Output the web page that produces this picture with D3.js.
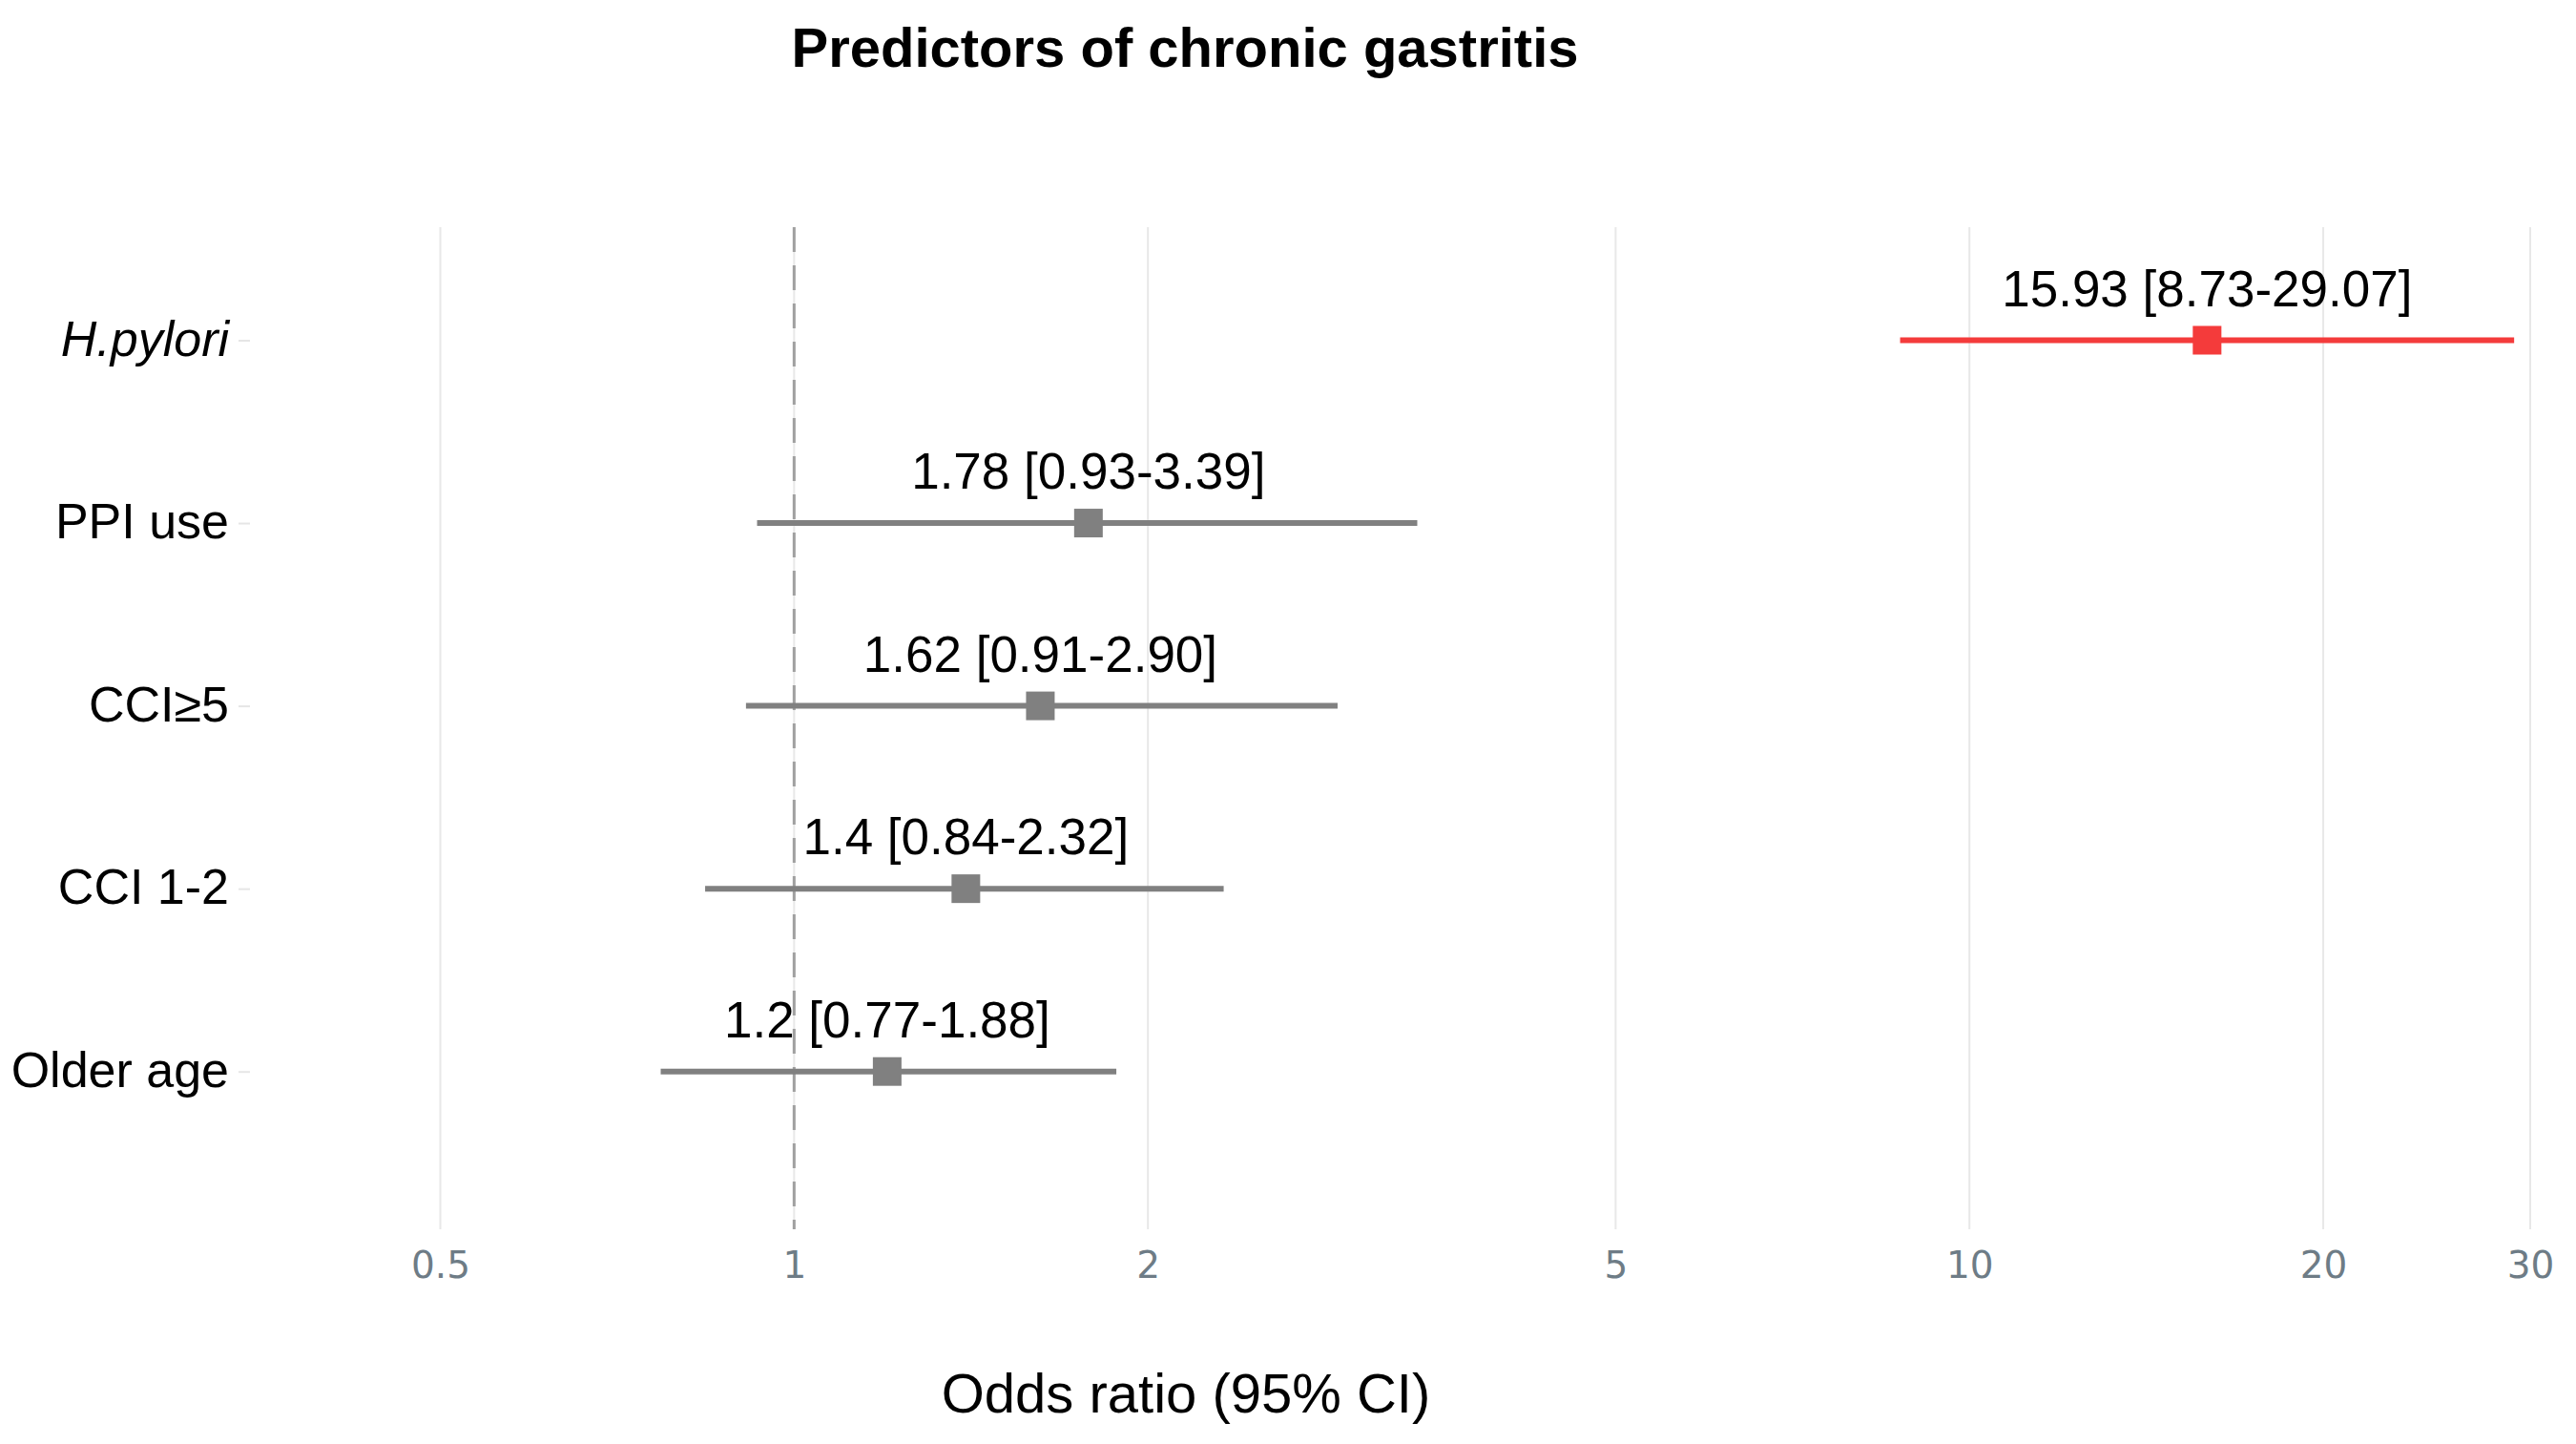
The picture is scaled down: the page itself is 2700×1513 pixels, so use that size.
<!DOCTYPE html>
<html>
<head>
<meta charset="utf-8">
<script src="https://cdn.jsdelivr.net/npm/d3@7"></script>
<style>
  body { margin: 0; background: #fff; }
  text { font-family: "Liberation Sans", Arial, sans-serif; }
</style>
</head>
<body>
<div id="chart"></div>
<script>
// data
const predictors = ["H.pylori", "PPI use", "CCI\u22655", "CCI 1-2", "Older age"];
const oddsRatio  = [15.93, 1.78, 1.62, 1.4, 1.2];
const ciLow      = [8.73, 0.93, 0.91, 0.84, 0.77];
const ciHigh     = [29.07, 3.39, 2.90, 2.32, 1.88];
const orLabels   = ["15.93 [8.73-29.07]", "1.78 [0.93-3.39]", "1.62 [0.91-2.90]", "1.4 [0.84-2.32]", "1.2 [0.77-1.88]"];
const xTicks     = [0.5, 1, 2, 5, 10, 20, 30];

const width = 2700, height = 1513;
const gridTop = 238, gridBottom = 1288;

const svg = d3.select("#chart").append("svg")
    .attr("width", width)
    .attr("height", height);

//scales
const x = d3.scaleLog()
    .domain([0.5, 30])
    .range([461.5, 2652]);

const y = d3.scalePoint()
    .domain(predictors)
    .range([356.5, 1122.7]);

const rows = predictors.map((p, i) => ({
    name: p, or: oddsRatio[i], lo: ciLow[i], hi: ciHigh[i], label: orLabels[i]
}));

//vertical gridlines
svg.append("g")
    .selectAll("line")
    .data(xTicks)
    .enter()
    .append("line")
    .attr("x1", d => x(d)).attr("x2", d => x(d))
    .attr("y1", gridTop).attr("y2", gridBottom)
    .attr("stroke", "#e8e8e8")
    .attr("stroke-width", 2);

//reference line at 1
svg.append("line")
    .attr("x1", x(1)).attr("x2", x(1))
    .attr("y1", gridTop).attr("y2", gridBottom)
    .attr("stroke", "#a0a0a0")
    .attr("stroke-width", 3)
    .attr("stroke-dasharray", "26,14");

//x axis labels
const xAxis = svg.append("g")
    .attr("transform", `translate(0,${1308})`)
    .call(d3.axisBottom(x).tickValues(xTicks).tickSize(0).tickFormat(d3.format("")));
xAxis.select(".domain").remove();
xAxis.selectAll("text")
    .attr("dy", "0.71em")
    .style("font-family", "'DejaVu Sans', sans-serif")
    .style("font-size", "39px")
    .attr("fill", "#6e7c86");

//y axis labels
const yAxis = svg.append("g")
    .attr("transform", "translate(262,0)")
    .call(d3.axisLeft(y).tickSize(12).tickPadding(10));
yAxis.select(".domain").remove();
yAxis.selectAll("line").attr("stroke", "#e6e6e6").attr("stroke-width", 2);
yAxis.selectAll("text")
    .attr("dy", "0.30em")
    .style("font-size", "52px")
    .attr("fill", "#000")
    .style("font-style", d => d === "H.pylori" ? "italic" : "normal");

const colour = d => d.name === "H.pylori" ? "#f43b3b" : "#808080";

//CI lines
svg.append("g")
    .selectAll("line")
    .data(rows)
    .enter()
    .append("line")
    .attr("x1", d => x(d.lo)).attr("x2", d => x(d.hi))
    .attr("y1", d => y(d.name)).attr("y2", d => y(d.name))
    .attr("stroke", colour)
    .attr("stroke-width", 6);

//point squares
const sq = 30;
svg.append("g")
    .selectAll("rect")
    .data(rows)
    .enter()
    .append("rect")
    .attr("x", d => x(d.or) - sq / 2)
    .attr("y", d => y(d.name) - sq / 2)
    .attr("width", sq).attr("height", sq)
    .attr("fill", colour);

//labels
svg.append("g")
    .selectAll("text")
    .data(rows)
    .enter()
    .append("text")
    .attr("x", d => x(d.or))
    .attr("y", d => y(d.name) - 36)
    .attr("text-anchor", "middle")
    .style("font-size", "53px")
    .attr("fill", "#000")
    .text(d => d.label);

//title
svg.append("text")
    .attr("x", 1242)
    .attr("y", 70)
    .attr("text-anchor", "middle")
    .style("font-size", "58px")
    .style("font-weight", "bold")
    .text("Predictors of chronic gastritis");

//axis title
svg.append("text")
    .attr("x", 1243)
    .attr("y", 1480)
    .attr("text-anchor", "middle")
    .style("font-size", "58px")
    .text("Odds ratio (95% CI)");
</script>
</body>
</html>
